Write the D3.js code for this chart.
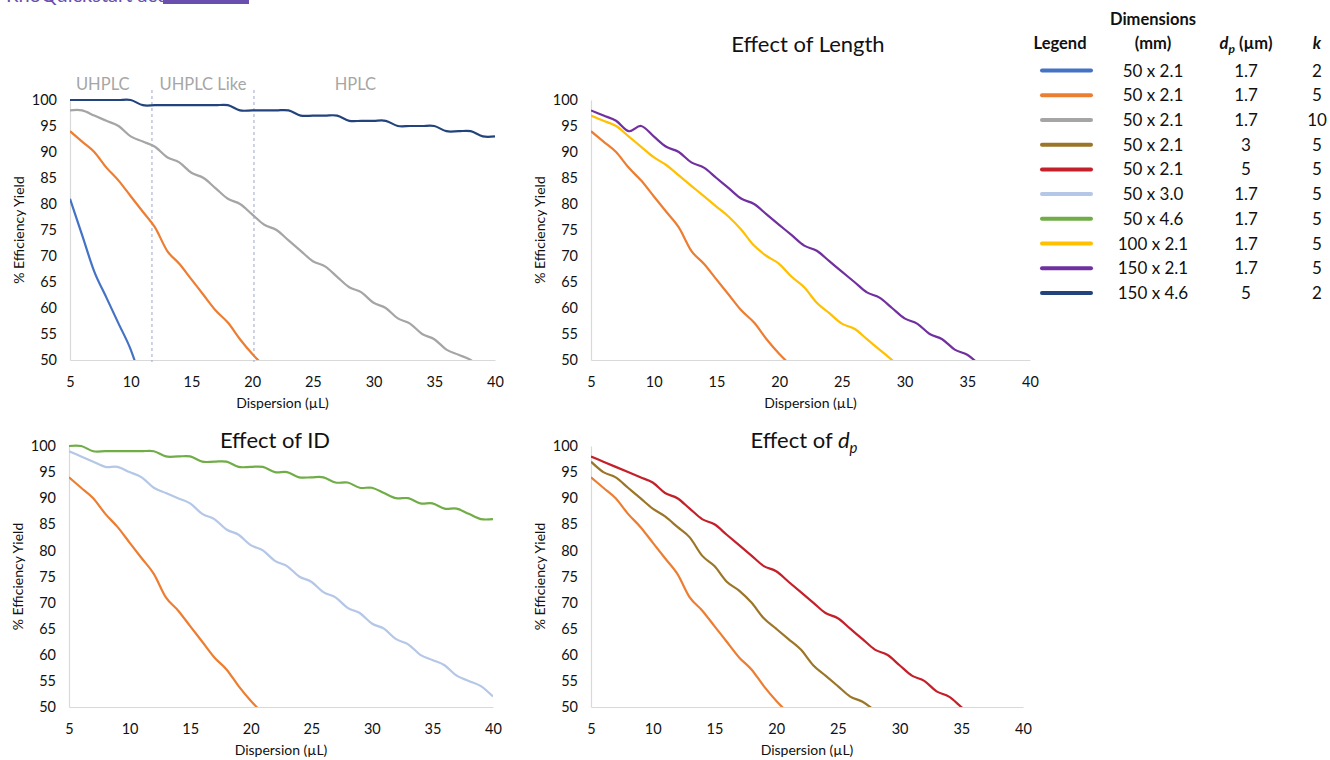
<!DOCTYPE html>
<html>
<head>
<meta charset="utf-8">
<script src="https://cdn.jsdelivr.net/npm/d3@7"></script>
<style>
  body { margin: 0; background: #fff; }
  svg { display: block; font-family: Lato, "Open Sans", sans-serif; }
</style>
</head>
<body>
<svg id="chart" width="1330" height="760"></svg>
<script>
// dispersion values (µL), one point per integer
const dispersion = [5, 6, 7, 8, 9, 10, 11, 12, 13, 14, 15, 16, 17, 18, 19, 20, 21, 22, 23,
  24, 25, 26, 27, 28, 29, 30, 31, 32, 33, 34, 35, 36, 37, 38, 39, 40];

// % efficiency yield, starting at 5 µL (values below 50 are clipped by the axis)
const yield50x21k2 = [81, 74, 67, 62, 57, 52, 45];
const yield50x21k5 = [94, 92, 90, 87, 84.5, 81.5, 78.5, 75.5, 71, 68.5, 65.5, 62.5, 59.5, 57.2, 54, 51.2, 48.8];
const yield50x21k10 = [98, 98, 97, 96, 95, 93, 92, 91, 89, 88, 86, 85, 83, 81, 80, 78, 76, 75, 73, 71,
  69, 68, 66, 64, 63, 61, 60, 58, 57, 55, 54, 52, 51, 50, 48];
const yieldDp3 = [97, 95, 94, 92, 90, 88, 86.5, 84.5, 82.5, 79, 77, 74, 72.3, 70, 67, 65, 63, 61, 58, 56,
  54, 52, 51, 49.3];
const yieldDp5 = [98, 97, 96, 95, 94, 93, 91, 90, 88, 86, 85, 83, 81, 79, 77, 76, 74, 72, 70, 68,
  67, 65, 63, 61, 60, 58, 56, 55, 53, 52, 50, 48];
const yield50x30 = [99, 98, 97, 96, 96, 95, 94, 92, 91, 90, 89, 87, 86, 84, 83, 81, 80, 78, 77, 75,
  74, 72, 71, 69, 68, 66, 65, 63, 62, 60, 59, 58, 56, 55, 54, 52];
const yield50x46 = [100, 100, 99, 99, 99, 99, 99, 99, 98, 98, 98, 97, 97, 97, 96, 96, 96, 95, 95, 94,
  94, 94, 93, 93, 92, 92, 91, 90, 90, 89, 89, 88, 88, 87, 86, 86];
const yield100x21 = [97, 96, 95, 93, 91, 89, 87.5, 85.5, 83.5, 81.5, 79.5, 77.5, 75, 72, 70, 68.5, 66, 64, 61, 59,
  57, 56, 54, 52, 50, 48];
const yield150x21 = [98, 97, 96, 94, 95, 93, 91, 90, 88, 87, 85, 83, 81, 80, 78, 76, 74, 72, 71, 69,
  67, 65, 63, 62, 60, 58, 57, 55, 54, 52, 51, 49];
const yield150x46 = [100, 100, 100, 100, 100, 100, 99, 99, 99, 99, 99, 99, 99, 99, 98, 98, 98, 98, 98, 97,
  97, 97, 97, 96, 96, 96, 96, 95, 95, 95, 95, 94, 94, 94, 93, 93];

// legend table columns
const legendDims = ['50 x 2.1', '50 x 2.1', '50 x 2.1', '50 x 2.1', '50 x 2.1', '50 x 3.0', '50 x 4.6', '100 x 2.1', '150 x 2.1', '150 x 4.6'];
const legendDp = ['1.7', '1.7', '1.7', '3', '5', '1.7', '1.7', '1.7', '1.7', '5'];
const legendK = ['2', '5', '10', '5', '5', '5', '5', '5', '5', '2'];

const xTicks = [5, 10, 15, 20, 25, 30, 35, 40];
const yTicks = [50, 55, 60, 65, 70, 75, 80, 85, 90, 95, 100];
const regionLabels = ['UHPLC', 'UHPLC Like', 'HPLC'];
const regionCenters = [7.7, 15.95, 28.5];
const regionBounds = [11.75, 20.15];

const series = [
  { values: yield50x21k2, color: '#4472c4' },
  { values: yield50x21k5, color: '#ed7d31' },
  { values: yield50x21k10, color: '#a5a5a5' },
  { values: yieldDp3, color: '#9c7628' },
  { values: yieldDp5, color: '#c4202a' },
  { values: yield50x30, color: '#b4c7e7' },
  { values: yield50x46, color: '#70ad47' },
  { values: yield100x21, color: '#ffc000' },
  { values: yield150x21, color: '#7030a0' },
  { values: yield150x46, color: '#23437c' }
];

const panels = [
  { left: 70, right: 495, top: 100, bottom: 360, lines: [9, 2, 1, 0], title: null, titleX: 0, titleY: 0 },
  { left: 591, right: 1030, top: 100, bottom: 360, lines: [1, 7, 8], title: 'Effect of Length', titleX: 808, titleY: 52 },
  { left: 69, right: 493, top: 446, bottom: 707, lines: [1, 5, 6], title: 'Effect of ID', titleX: 275, titleY: 448 },
  { left: 591, right: 1023, top: 446, bottom: 707, lines: [1, 3, 4], title: 'dp', titleX: 804, titleY: 448 }
];

const svg = d3.select('#chart');
const defs = svg.append('defs');

// cut-off header from the page above the figure
svg.append('text')
  .attr('x', 6).attr('y', 2)
  .attr('font-size', 20)
  .attr('fill', '#6b4fae')
  .text('RhoQuickstart access');
svg.append('rect')
  .attr('x', 163).attr('y', 0).attr('width', 86).attr('height', 4)
  .attr('fill', '#6b4fae');

const line = d3.line().curve(d3.curveCardinal.tension(0));

panels.forEach((p, i) => {
  const x = d3.scaleLinear().domain([5, 40]).range([p.left, p.right]);
  const y = d3.scaleLinear().domain([50, 100]).range([p.bottom, p.top]);
  const g = svg.append('g');

  defs.append('clipPath').attr('id', 'clip' + i)
    .append('rect')
    .attr('x', p.left).attr('y', p.top - 6)
    .attr('width', p.right - p.left).attr('height', p.bottom - p.top + 6);

  const yAxis = g.append('g')
    .attr('transform', `translate(${p.left},0)`)
    .call(d3.axisLeft(y).tickValues(yTicks).tickSize(0).tickPadding(13));
  const xAxis = g.append('g')
    .attr('transform', `translate(0,${p.bottom})`)
    .call(d3.axisBottom(x).tickValues(xTicks).tickSize(0).tickPadding(17));
  [yAxis, xAxis].forEach(a => {
    a.select('.domain').attr('stroke', '#d9d9d9').attr('stroke-width', 1.2);
    a.selectAll('text').attr('font-size', 14.5).attr('fill', '#111').style('font-family', 'Lato, sans-serif');
  });

  g.append('text')
    .attr('x', (p.left + p.right) / 2).attr('y', p.bottom + 48)
    .attr('text-anchor', 'middle').attr('font-size', 14).attr('fill', '#111')
    .text('Dispersion (µL)');
  g.append('text')
    .attr('transform', `translate(${p.left - 46},${(p.top + p.bottom) / 2}) rotate(-90)`)
    .attr('text-anchor', 'middle').attr('font-size', 14).attr('fill', '#111')
    .text('% Efficiency Yield');

  if (p.title === 'dp') {
    const t = g.append('text')
      .attr('x', p.titleX).attr('y', p.titleY)
      .attr('text-anchor', 'middle').attr('font-size', 22).attr('fill', '#111');
    t.append('tspan').text('Effect of ');
    t.append('tspan').attr('font-style', 'italic').text('d');
    t.append('tspan').attr('font-style', 'italic').attr('font-size', 15).attr('dy', 5).text('p');
  } else if (p.title) {
    g.append('text')
      .attr('x', p.titleX).attr('y', p.titleY)
      .attr('text-anchor', 'middle').attr('font-size', 22).attr('fill', '#111')
      .text(p.title);
  }

  if (i === 0) {
    regionBounds.forEach(b => {
      g.append('line')
        .attr('x1', x(b)).attr('x2', x(b))
        .attr('y1', 90).attr('y2', p.bottom + 2)
        .attr('stroke', '#9aa6cf').attr('stroke-width', 1)
        .attr('stroke-dasharray', '3,3');
    });
    regionLabels.forEach((lab, j) => {
      g.append('text')
        .attr('x', x(regionCenters[j])).attr('y', 90)
        .attr('text-anchor', 'middle').attr('font-size', 16.5).attr('fill', '#a6a6a6')
        .text(lab);
    });
  }

  const lines = g.append('g').attr('clip-path', `url(#clip${i})`);
  p.lines.forEach(si => {
    const s = series[si];
    const pts = s.values.map((v, k) => [x(dispersion[k]), y(v)]);
    lines.append('path')
      .attr('d', line(pts))
      .attr('fill', 'none')
      .attr('stroke', s.color)
      .attr('stroke-width', 2.2)
      .attr('stroke-linejoin', 'round');
  });
});

// legend table
const lg = svg.append('g').attr('fill', '#111');
const colDims = 1153, colDp = 1246, colK = 1317;
lg.append('text').attr('x', colDims).attr('y', 25).attr('text-anchor', 'middle')
  .attr('font-size', 16.5).attr('font-weight', 'bold').text('Dimensions');
lg.append('text').attr('x', 1060).attr('y', 49).attr('text-anchor', 'middle')
  .attr('font-size', 16.5).attr('font-weight', 'bold').text('Legend');
lg.append('text').attr('x', colDims).attr('y', 49).attr('text-anchor', 'middle')
  .attr('font-size', 16.5).attr('font-weight', 'bold').text('(mm)');
const dpHead = lg.append('text').attr('x', colDp).attr('y', 49).attr('text-anchor', 'middle')
  .attr('font-size', 16.5).attr('font-weight', 'bold');
dpHead.append('tspan').attr('font-style', 'italic').text('d');
dpHead.append('tspan').attr('font-style', 'italic').attr('font-size', 12).attr('dy', 4).text('p');
dpHead.append('tspan').attr('dy', -4).text(' (µm)');
lg.append('text').attr('x', colK).attr('y', 49).attr('text-anchor', 'middle')
  .attr('font-size', 16.5).attr('font-weight', 'bold').attr('font-style', 'italic').text('k');

const rowY = d3.scalePoint().domain(d3.range(series.length)).range([70.5, 293]);
series.forEach((s, r) => {
  const yy = rowY(r);
  lg.append('line')
    .attr('x1', 1042).attr('x2', 1091).attr('y1', yy).attr('y2', yy)
    .attr('stroke', s.color).attr('stroke-width', 4).attr('stroke-linecap', 'round');
  [[colDims, legendDims[r]], [colDp, legendDp[r]], [colK, legendK[r]]].forEach(([cx, txt]) => {
    lg.append('text').attr('x', cx).attr('y', yy + 6)
      .attr('text-anchor', 'middle').attr('font-size', 17).text(txt);
  });
});
</script>
</body>
</html>
